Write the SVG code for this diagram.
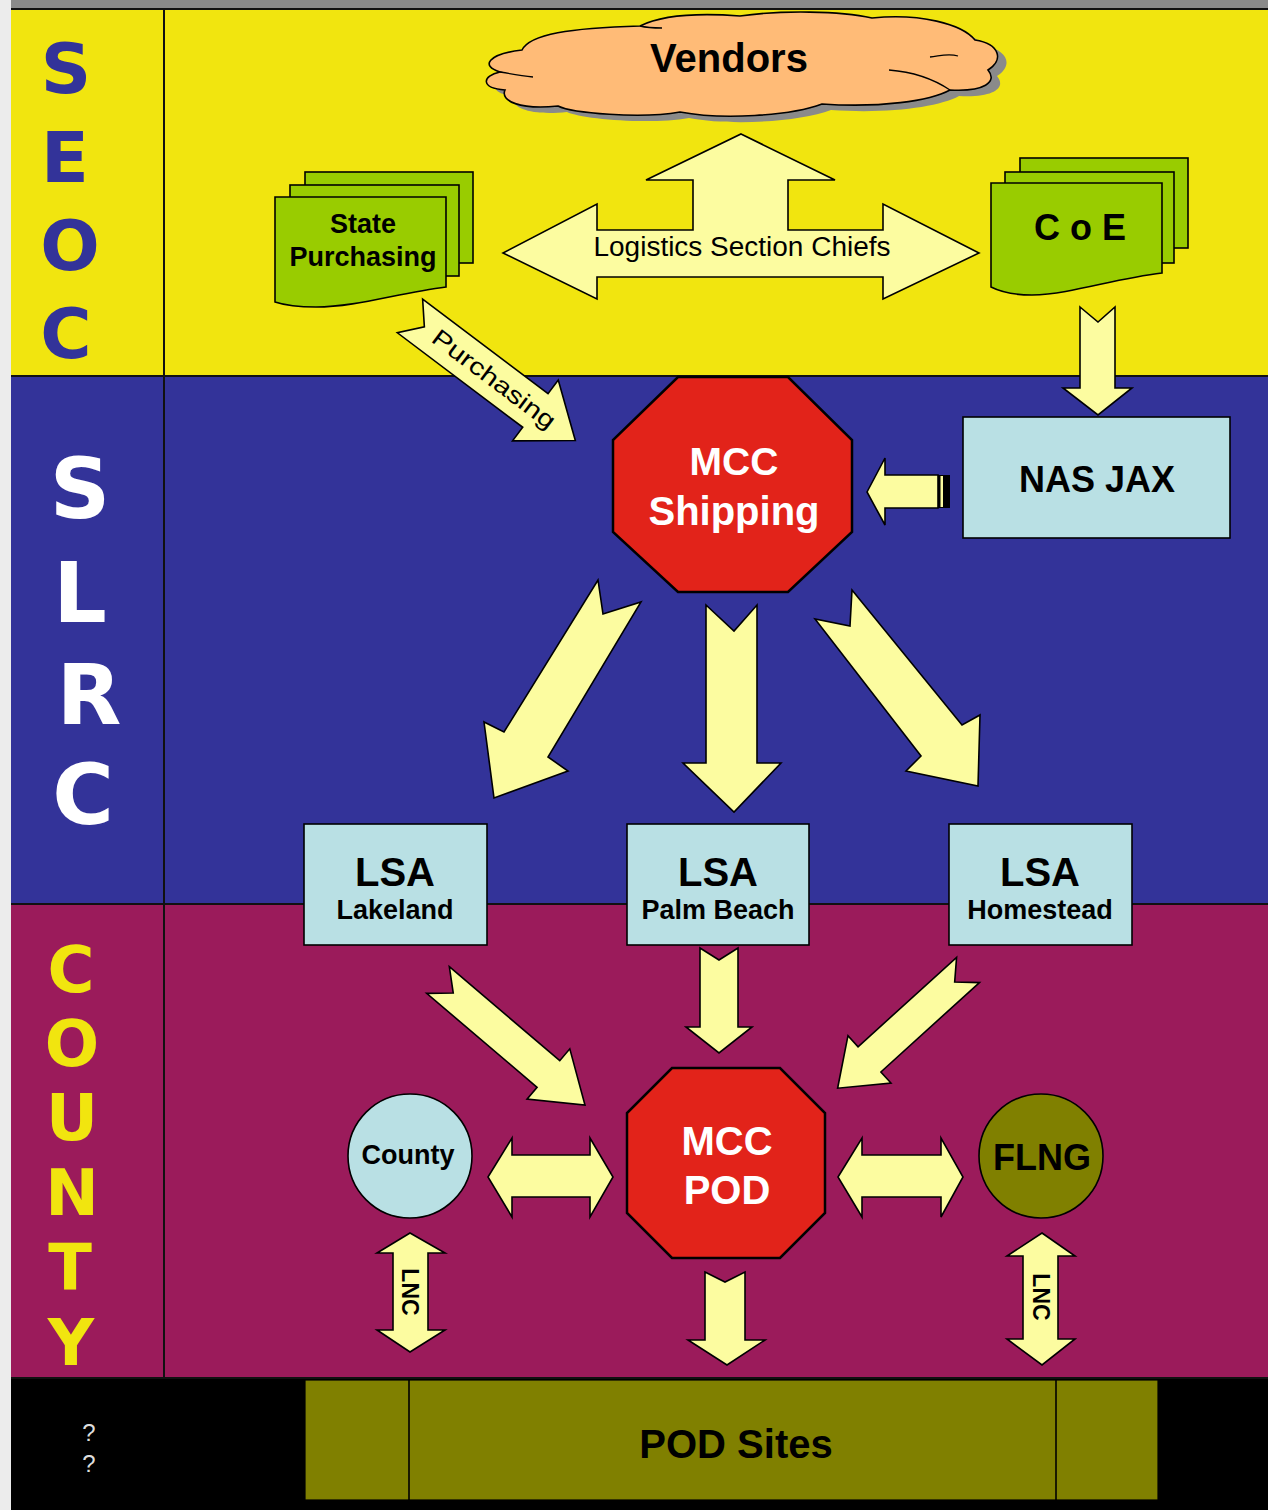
<svg xmlns="http://www.w3.org/2000/svg" width="1268" height="1510" viewBox="0 0 1268 1510">
  <style>
    .arrow { fill:#fcfca0; stroke:#000; stroke-width:1.6; stroke-linejoin:miter; }
    .box { fill:#b9e0e4; stroke:#000; stroke-width:1.6; }
    .card { fill:#99cc00; stroke:#000; stroke-width:1.6; }
    .oct { fill:#e2231a; stroke:#000; stroke-width:2.5; }
    .t { font-family:"Liberation Sans", Arial, sans-serif; font-weight:bold; fill:#000; text-anchor:middle; }
    .reg { font-family:"Liberation Sans", Arial, sans-serif; fill:#000; text-anchor:middle; }
    .lane { font-family:"DejaVu Sans", Verdana, sans-serif; font-weight:bold; text-anchor:middle; }
  </style>

  <!-- swimlane backgrounds -->
  <g id="lanes">
    <rect x="0" y="0" width="1268" height="1510" fill="#ececec"/>
    <rect x="11" y="0" width="1257" height="9" fill="#8a8a8a"/>
    <rect x="11" y="9" width="1257" height="367" fill="#f1e50f"/>
    <rect x="11" y="376" width="1257" height="528" fill="#333399"/>
    <rect x="11" y="904" width="1257" height="474" fill="#9b1b5b"/>
    <rect x="11" y="1378" width="1257" height="132" fill="#000"/>
    <g stroke="#111" stroke-width="2">
      <line x1="11" y1="9" x2="1268" y2="9"/>
      <line x1="11" y1="376" x2="1268" y2="376"/>
      <line x1="11" y1="904" x2="1268" y2="904"/>
      <line x1="11" y1="1378" x2="1268" y2="1378"/>
      <line x1="164" y1="9" x2="164" y2="1378"/>
    </g>
    <g class="lane" fill="#333399" font-size="70">
      <text x="66" y="93">S</text>
      <text x="65" y="182">E</text>
      <text x="70" y="270">O</text>
      <text x="66" y="358">C</text>
    </g>
    <g class="lane" fill="#ffffff" font-size="84">
      <text x="80" y="518">S</text>
      <text x="80" y="622">L</text>
      <text x="89" y="724">R</text>
      <text x="83" y="824">C</text>
    </g>
    <g class="lane" fill="#f1e50f" font-size="64">
      <text x="71" y="992">C</text>
      <text x="72" y="1066">O</text>
      <text x="72" y="1140">U</text>
      <text x="72" y="1215">N</text>
      <text x="70" y="1290">T</text>
      <text x="71" y="1365">Y</text>
    </g>
    <g class="reg" fill="#dddddd" font-size="24" style="fill:#dddddd">
      <text x="89" y="1441">?</text>
      <text x="89" y="1472">?</text>
    </g>
  </g>

  <!-- connectors -->
  <g id="connectors">
    <!-- Logistics Section Chiefs: three-way arrow -->
    <g id="logistics">
      <polygon class="arrow" points="741,134 835,180 788,180 788,230 883,230 883,204 979,253 883,299 883,277 597,277 597,299 503,253 597,204 597,230 693,230 693,180 646,180"/>
      <text class="reg" x="742" y="256" font-size="27" textLength="297" lengthAdjust="spacingAndGlyphs">Logistics Section Chiefs</text>
    </g>

    <!-- State Purchasing -> MCC Shipping -->
    <g transform="translate(410,316) rotate(37)">
      <polygon class="arrow" points="0,-21 157,-21 157,-38 207,0 157,38 157,21 0,21 18,0"/>
      <text class="reg" x="105" y="8" font-size="24" textLength="148" lengthAdjust="spacingAndGlyphs">Purchasing</text>
    </g>

    <!-- CoE -> NAS JAX -->
    <polygon class="arrow" points="1080,307 1098,322 1115,307 1115,388 1132,388 1098,415 1063,388 1080,388"/>

    <!-- NAS JAX -> MCC Shipping -->
    <polygon class="arrow" points="867,492 885,458 885,475 938,475 938,508 885,508 885,525"/>
    <rect x="938" y="475" width="12" height="33" fill="#000"/>
    <rect x="940.5" y="476" width="2.5" height="31" fill="#fcfca0"/>

    <!-- MCC Shipping -> LSAs -->
    <polygon class="arrow" points="598,580 603,614 641,602 548,757 568,771 494,798 484,722 504,732"/>
    <polygon class="arrow" points="706,605 734,631 757,605 757,763 781,763 734,812 683,763 706,763"/>
    <polygon class="arrow" points="852,590 962,725 980,715 978,786 906,771 921,756 815,619 850,626"/>

    <!-- LSAs -> MCC POD -->
    <g transform="translate(438,980) rotate(40.4)">
      <polygon class="arrow" points="0,-17.5 145,-17.5 145,-33 193,0 145,33 145,17.5 0,17.5 20,0"/>
    </g>
    <polygon class="arrow" points="700,948 719,960 738,948 738,1027 752,1027 719,1053 686,1027 700,1027"/>
    <g transform="translate(968,970) rotate(137.8)">
      <polygon class="arrow" points="0,-17 133,-17 133,-32 176,0 133,32 133,17 0,17 18,0"/>
    </g>

    <!-- County <-> MCC POD <-> FLNG -->
    <polygon class="arrow" points="488,1177 512,1138 512,1155 590,1155 590,1138 613,1177 590,1217 590,1197 512,1197 512,1217"/>
    <polygon class="arrow" points="838,1177 862,1138 862,1155 941,1155 941,1138 963,1177 941,1217 941,1197 862,1197 862,1217"/>

    <!-- MCC POD -> POD Sites -->
    <polygon class="arrow" points="705,1272 725,1282 745,1272 745,1340 765,1340 727,1365 688,1340 705,1340"/>

    <!-- LNC links to POD Sites -->
    <polygon class="arrow" points="410,1233 445,1253 428,1253 428,1330 445,1330 410,1352 377,1330 393,1330 393,1253 377,1253"/>
    <g transform="translate(410,1292) rotate(90)">
      <text class="t" x="0" y="8" font-size="23">LNC</text>
    </g>
    <polygon class="arrow" points="1042,1233 1075,1256 1058,1256 1058,1339 1075,1339 1042,1365 1007,1339 1023,1339 1023,1256 1007,1256"/>
    <g transform="translate(1041,1297) rotate(90)">
      <text class="t" x="0" y="8" font-size="23">LNC</text>
    </g>
  </g>

  <!-- Vendors cloud -->
  <g id="vendors">
    <path transform="translate(9,6)" fill="#8a8a8a" d="M500,72 C480,66 488,54 522,50 C530,34 570,28 640,26 C662,15 700,13 740,16 C782,10 840,11 872,18 C920,13 962,24 975,40 C1000,44 1004,60 988,70 C998,82 984,92 950,90 C930,101 880,108 822,104 C790,116 722,120 680,112 C640,119 572,113 558,106 C520,110 500,101 505,90 C480,88 482,76 500,72 Z"/>
    <path fill="#ffbb77" stroke="#000" stroke-width="1.6" d="M500,72 C480,66 488,54 522,50 C530,34 570,28 640,26 C662,15 700,13 740,16 C782,10 840,11 872,18 C920,13 962,24 975,40 C1000,44 1004,60 988,70 C998,82 984,92 950,90 C930,101 880,108 822,104 C790,116 722,120 680,112 C640,119 572,113 558,106 C520,110 500,101 505,90 C480,88 482,76 500,72 Z"/>
    <g fill="none" stroke="#000" stroke-width="1.3">
      <path d="M500,72 C512,74 525,76 533,77"/>
      <path d="M950,90 C935,80 915,72 889,70"/>
      <path d="M958,56 C948,53 940,56 930,57"/>
      <path d="M640,26 C648,28 655,28 662,28"/>
    </g>
    <text class="t" x="729" y="72" font-size="40">Vendors</text>
  </g>

  <!-- State Purchasing (stacked documents) -->
  <g id="state-purchasing">
    <rect class="card" x="305" y="172" width="168" height="91"/>
    <rect class="card" x="290" y="185" width="169" height="91"/>
    <path class="card" d="M275,197 H446 V287 C398,293 356,307 316,307 C296,307 284,305 275,302 Z"/>
    <text class="t" x="363" y="233" font-size="27">State</text>
    <text class="t" x="363" y="266" font-size="27">Purchasing</text>
  </g>

  <!-- CoE (stacked documents) -->
  <g id="coe">
    <rect class="card" x="1020" y="158" width="168" height="90"/>
    <rect class="card" x="1005" y="172" width="169" height="91"/>
    <path class="card" d="M991,183 H1162 V273 C1112,279 1072,294 1032,295 C1012,295 999,291 991,287 Z"/>
    <text class="t" x="1080" y="240" font-size="36">C o E</text>
  </g>

  <!-- NAS JAX -->
  <g id="nas-jax">
    <rect class="box" x="963" y="417" width="267" height="121"/>
    <text class="t" x="1097" y="492" font-size="36">NAS JAX</text>
  </g>

  <!-- MCC Shipping -->
  <g id="mcc-shipping">
    <polygon class="oct" points="678,377 788,377 852,440 852,532 788,592 678,592 613,532 613,440"/>
    <text class="t" x="734" y="475" font-size="39" style="fill:#fff">MCC</text>
    <text class="t" x="734" y="525" font-size="40" style="fill:#fff">Shipping</text>
  </g>

  <!-- LSA nodes -->
  <g id="lsa-lakeland">
    <rect class="box" x="304" y="824" width="183" height="121"/>
    <text class="t" x="395" y="886" font-size="40">LSA</text>
    <text class="t" x="395" y="919" font-size="27">Lakeland</text>
  </g>
  <g id="lsa-palm-beach">
    <rect class="box" x="627" y="824" width="182" height="121"/>
    <text class="t" x="718" y="886" font-size="40">LSA</text>
    <text class="t" x="718" y="919" font-size="27">Palm Beach</text>
  </g>
  <g id="lsa-homestead">
    <rect class="box" x="949" y="824" width="183" height="121"/>
    <text class="t" x="1040" y="886" font-size="40">LSA</text>
    <text class="t" x="1040" y="919" font-size="27">Homestead</text>
  </g>

  <!-- MCC POD -->
  <g id="mcc-pod">
    <polygon class="oct" points="672,1068 780,1068 825,1113 825,1213 780,1258 672,1258 627,1213 627,1113" stroke-width="3.5"/>
    <text class="t" x="727" y="1155" font-size="40" style="fill:#fff">MCC</text>
    <text class="t" x="727" y="1204" font-size="40" style="fill:#fff">POD</text>
  </g>

  <!-- County -->
  <g id="county">
    <circle cx="410" cy="1156" r="62" fill="#b9e0e4" stroke="#000" stroke-width="1.6"/>
    <text class="t" x="408" y="1164" font-size="27">County</text>
  </g>

  <!-- FLNG -->
  <g id="flng">
    <circle cx="1041" cy="1156" r="62" fill="#808000" stroke="#000" stroke-width="1.6"/>
    <text class="t" x="1042" y="1170" font-size="36">FLNG</text>
  </g>

  <!-- POD Sites -->
  <g id="pod-sites">
    <rect x="305" y="1380" width="853" height="120" fill="#808000" stroke="#000" stroke-width="1.2"/>
    <line x1="409" y1="1380" x2="409" y2="1500" stroke="#000" stroke-width="1.6"/>
    <line x1="1056" y1="1380" x2="1056" y2="1500" stroke="#000" stroke-width="1.6"/>
    <text class="t" x="736" y="1458" font-size="40">POD Sites</text>
  </g>
</svg>
